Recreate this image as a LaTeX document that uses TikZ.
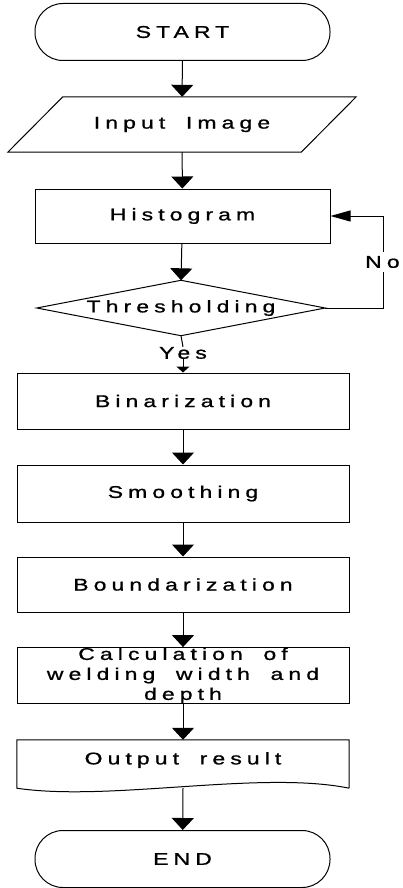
\documentclass[tikz,border=0pt]{standalone}
\usepackage{fontspec}
\setmainfont{Liberation Sans}[FakeStretch=1.35,LetterSpace=30,WordSpace=1.8,FakeBold=1]
\usetikzlibrary{arrows.meta}
\begin{document}
\begin{tikzpicture}[x=1pt,y=-1pt,
  every node/.style={font=\fontsize{17}{20}\selectfont, inner sep=0pt},
  box/.style={draw, line width=1pt, minimum width=332pt},
  term/.style={draw, line width=1pt, rounded corners=28pt, minimum width=295pt, minimum height=57pt},
  flow/.style={line width=1pt, -{Triangle[width=22pt,length=12pt]}},
  back/.style={line width=1pt, -{Triangle[width=11pt,length=20pt]}},
  small/.style={line width=1pt, -{Triangle[width=13pt,length=6pt]}},
  plain/.style={line width=1pt}]
\useasboundingbox (0,0) rectangle (402,888);
\node[term] (start) at (182.5,32) {START};
\node[minimum width=348pt, minimum height=55pt] (input) at (182,124.5) {Input Image};
\draw[plain] ([xshift=55pt]input.north west) -- (input.north east) -- ([xshift=-55pt]input.south east)
  -- (input.south west) -- cycle;
\node[draw, line width=1pt, minimum width=295pt, minimum height=54pt] (hist) at (182.5,216) {Histogram};
\node[minimum width=288pt, minimum height=55pt] (thr) at (181,308) {Thresholding};
\draw[plain] (thr.north) -- (thr.east) -- (thr.south) -- (thr.west) -- cycle;
\node (yes) at (183,353) {Yes};
\node[box, minimum height=56pt] (bin) at (183,401) {Binarization};
\node[box, minimum height=57pt] (smooth) at (183,493.5) {Smoothing};
\node[box, minimum height=55pt] (bound) at (183,584.5) {Boundarization};
\node[box, minimum height=55pt, align=center] (calc) at (183,675.5) {Calculation of\\welding width and\\depth};
\node[minimum width=332pt, minimum height=48pt] (out) at (183,764) {};
\node at (183,760) {Output result};
\draw[plain] (out.south east) -- (out.north east) -- (out.north west) -- (out.south west)
  .. controls (110,802) and (260,770) .. (out.south east);
\node[term] (end) at (182.5,859) {END};
\coordinate (lx) at (383,0);
\draw[flow] (start) -- (input);
\draw[flow] (input) -- (hist);
\draw[flow] (hist) -- (thr.north);
\draw[back] (thr.east) -- (thr.east -| lx) -- (hist.east -| lx) -- (hist.east);
\node[fill=white, inner ysep=4pt, anchor=west] (no) at (365,262) {No};
\draw[plain] (thr.south) -- (yes.north);
\draw[small] (yes.south) -- (bin.north);
\draw[flow] (bin) -- (smooth);
\draw[flow] (smooth) -- (bound);
\draw[flow] (bound) -- (calc);
\draw[flow] (calc) -- (out.north);
\draw[flow] (out.south) -- (end);
\end{tikzpicture}
\end{document}
